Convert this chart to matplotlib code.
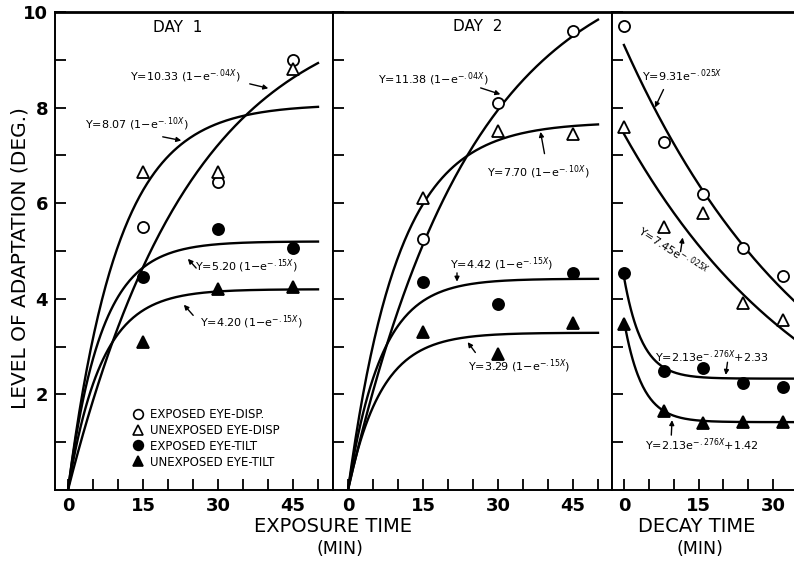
import numpy as np
import matplotlib
matplotlib.use("Agg")
import matplotlib.pyplot as plt
from matplotlib.lines import Line2D

plt.rcParams['font.family'] = ['DejaVu Sans']

# exposure sessions (min)
exposure_min = [15, 30, 45]
day1_exp_disp = [5.5, 6.45, 9.0]
day1_unexp_disp = [6.65, 6.65, 8.8]
day1_exp_tilt = [4.45, 5.45, 5.07]
day1_unexp_tilt = [3.1, 4.2, 4.25]

day2_exp_disp = [5.25, 8.1, 9.6]
day2_unexp_disp = [6.1, 7.5, 7.45]
day2_exp_tilt = [4.35, 3.9, 4.55]
day2_unexp_tilt = [3.3, 2.85, 3.5]

# decay session (min)
decay_min = [0, 8, 16, 24, 32]
decay_exp_disp = [9.7, 7.27, 6.2, 5.07, 4.47]
decay_unexp_disp = [7.6, 5.5, 5.8, 3.92, 3.56]
decay_exp_tilt = [4.55, 2.5, 2.56, 2.24, 2.16]
decay_unexp_tilt = [3.48, 1.66, 1.4, 1.43, 1.43]

# fitted curves as printed on the chart: Y = A(1-e^-kX)  and  Y = A e^-kX + C
day1_fit_A = [10.33, 8.07, 5.20, 4.20]
day1_fit_k = [0.04, 0.10, 0.15, 0.15]
day2_fit_A = [11.38, 7.70, 4.42, 3.29]
day2_fit_k = [0.04, 0.10, 0.15, 0.15]
decay_fit_A = [9.31, 7.45, 2.13, 2.13]
decay_fit_k = [0.025, 0.025, 0.276, 0.276]
decay_fit_C = [0.0, 0.0, 2.33, 1.42]

legend_labels = ['EXPOSED EYE-DISP.', 'UNEXPOSED EYE-DISP',
                 'EXPOSED EYE-TILT', 'UNEXPOSED EYE-TILT']

styles = [dict(marker='o', mfc='white'), dict(marker='^', mfc='white'),
          dict(marker='o', mfc='black'), dict(marker='^', mfc='black')]
ms = 8

fig = plt.figure(figsize=(7.94, 5.62), dpi=100)
H = 562.0
W = 794.0
bot = 72 / H
hgt = 478 / H
ax1 = fig.add_axes([55 / W, bot, 278 / W, hgt])
ax2 = fig.add_axes([333 / W, bot, 279 / W, hgt])
ax3 = fig.add_axes([612 / W, bot, 182 / W, hgt])

for ax in (ax1, ax2, ax3):
    ax.set_ylim(0, 10)
    ax.set_yticks([2, 4, 6, 8, 10])
    ax.set_yticks(range(1, 10, 2), minor=True)
    ax.tick_params(which='both', direction='in', length=8, width=1.3,
                   labelsize=13, pad=5)
    for s in ax.spines.values():
        s.set_linewidth(1.4)
    ax.spines['top'].set_linewidth(2)

ax1.set_xlim(-2.6, 53)
ax2.set_xlim(-3, 52.8)
ax3.set_xlim(-2.4, 34.2)
for ax in (ax1, ax2):
    ax.set_xticks([0, 15, 30, 45])
    ax.set_xticks(range(5, 55, 5), minor=True)
ax3.set_xticks([0, 15, 30])
ax3.set_xticks(range(5, 35, 5), minor=True)
ax2.set_yticklabels([])
ax3.set_yticklabels([])
ax3.spines['right'].set_visible(False)
for ax in (ax1, ax2, ax3):
    for lab in ax.get_xticklabels() + ax.get_yticklabels():
        lab.set_fontweight('bold')

# curves
xg = np.linspace(0, 50, 200)
for A, k in zip(day1_fit_A, day1_fit_k):
    ax1.plot(xg, A * (1 - np.exp(-k * xg)), color='black', lw=1.7, zorder=2)
for A, k in zip(day2_fit_A, day2_fit_k):
    ax2.plot(xg, A * (1 - np.exp(-k * xg)), color='black', lw=1.7, zorder=2)
xd = np.linspace(0, 34.5, 200)
for A, k, C in zip(decay_fit_A, decay_fit_k, decay_fit_C):
    ax3.plot(xd, A * np.exp(-k * xd) + C, color='black', lw=1.7, zorder=2)

# points
day1 = [day1_exp_disp, day1_unexp_disp, day1_exp_tilt, day1_unexp_tilt]
day2 = [day2_exp_disp, day2_unexp_disp, day2_exp_tilt, day2_unexp_tilt]
decay = [decay_exp_disp, decay_unexp_disp, decay_exp_tilt, decay_unexp_tilt]
for vals, st in zip(day1, styles):
    ax1.plot(exposure_min, vals, ls='none', ms=ms, mec='black', mew=1.3, zorder=3, **st)
for vals, st in zip(day2, styles):
    ax2.plot(exposure_min, vals, ls='none', ms=ms, mec='black', mew=1.3, zorder=3, **st)
for vals, st in zip(decay, styles):
    ax3.plot(decay_min, vals, ls='none', ms=ms, mec='black', mew=1.3, zorder=3,
             clip_on=False, **st)

# titles
ax1.text(22, 9.68, 'DAY  1', fontsize=11, ha='center', va='center')
ax2.text(26, 9.7, 'DAY  2', fontsize=11, ha='center', va='center')

eq_fs = 8
arr = dict(arrowstyle='-|>', color='black', lw=1.0, mutation_scale=7)


def eq(ax, x, y, s, a_from, a_to, rot=0):
    ax.text(x, y, s, fontsize=eq_fs, ha='left', va='center', rotation=rot,
            rotation_mode='anchor')
    ax.annotate('', xy=a_to, xytext=a_from, arrowprops=arr)


eq(ax1, 12.4, 8.66, r'Y=10.33 (1$-$e$^{-.04X}$)', (35.8, 8.51), (40.6, 8.39))
eq(ax1, 3.4, 7.65, r'Y=8.07 (1$-$e$^{-.10X}$)', (18.4, 7.4), (23.2, 7.3))
eq(ax1, 25.4, 4.68, r'Y=5.20 (1$-$e$^{-.15X}$)', (26, 4.6), (23.6, 4.88))
eq(ax1, 26.4, 3.52, r'Y=4.20 (1$-$e$^{-.15X}$)', (25.4, 3.61), (22.8, 3.92))

eq(ax2, 6, 8.6, r'Y=11.38 (1$-$e$^{-.04X}$)', (26, 8.43), (31, 8.26))
eq(ax2, 27.8, 6.65, r'Y=7.70 (1$-$e$^{-.10X}$)', (39.4, 6.98), (38.4, 7.55))
eq(ax2, 20.4, 4.72, r'Y=4.42 (1$-$e$^{-.15X}$)', (21.8, 4.6), (21.8, 4.3))
eq(ax2, 24, 2.58, r'Y=3.29 (1$-$e$^{-.15X}$)', (25.8, 2.83), (23.6, 3.14))

eq(ax3, 3.6, 8.66, r'Y=9.31e$^{-.025X}$', (8.2, 8.43), (6.0, 7.95))
eq(ax3, 3.2, 5.45, r'Y=7.45e$^{-.025X}$', (11.3, 4.93), (11.9, 5.34), rot=-33)
eq(ax3, 6.2, 2.79, r'Y=2.13e$^{-.276X}$+2.33', (20.9, 2.73), (20.4, 2.35))
eq(ax3, 4.2, 0.94, r'Y=2.13e$^{-.276X}$+1.42', (9.5, 1.09), (9.7, 1.52))

# legend
handles = [Line2D([], [], ls='none', ms=7, mec='black', mew=1.2, **st) for st in styles]
ax1.legend(handles, legend_labels, loc='lower left', bbox_to_anchor=(0.26, 0.035),
           frameon=False, fontsize=8.5, labelspacing=0.25, handlelength=1.0,
           handletextpad=0.5, borderaxespad=0)

# axis labels
fig.text(20 / W, 1 - 258 / H, 'LEVEL OF ADAPTATION (DEG.)', rotation=90,
         fontsize=14.5, ha='center', va='center')
fig.text(333 / W, 1 - 526 / H, 'EXPOSURE TIME', fontsize=14, ha='center', va='center')
fig.text(340 / W, 1 - 549 / H, '(MIN)', fontsize=12.5, ha='center', va='center')
fig.text(697 / W, 1 - 526 / H, 'DECAY TIME', fontsize=14, ha='center', va='center')
fig.text(700 / W, 1 - 549 / H, '(MIN)', fontsize=12.5, ha='center', va='center')

fig.savefig('out.png', dpi=100)
